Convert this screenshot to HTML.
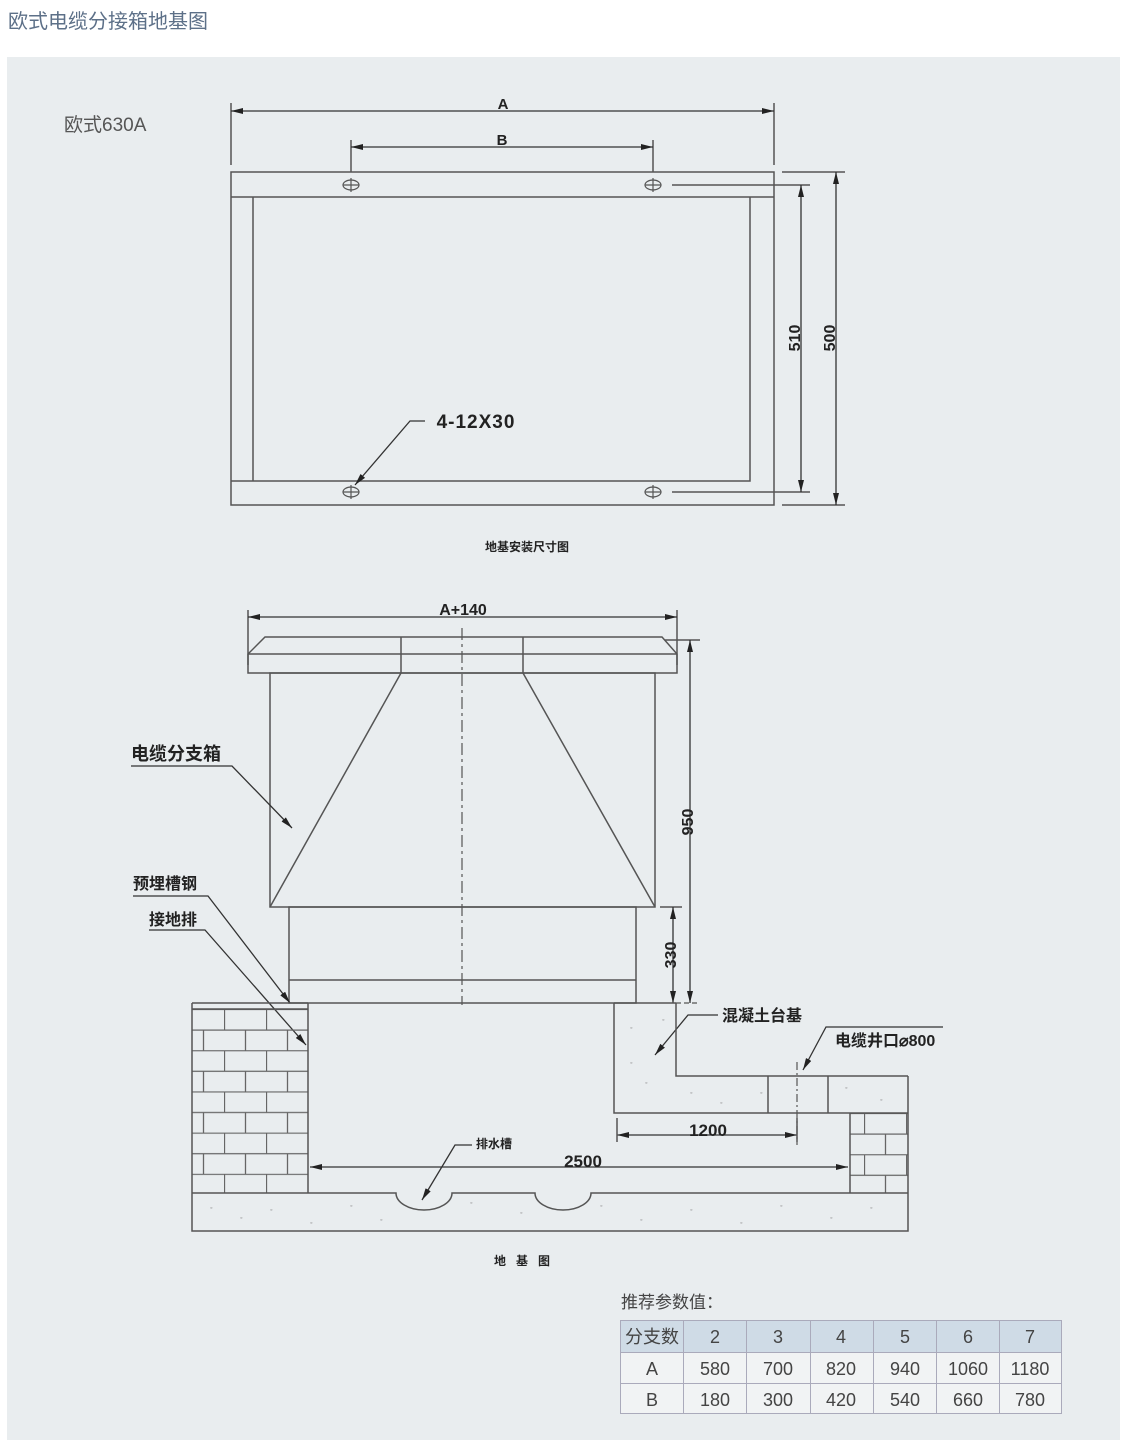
<!DOCTYPE html>
<html><head><meta charset="utf-8"><style>
html,body{margin:0;padding:0;background:#fff;}
body{width:1125px;height:1449px;position:relative;overflow:hidden;font-family:"Liberation Sans","Noto Sans CJK SC",sans-serif;}
</style></head><body>
<svg width="1125" height="1449" viewBox="0 0 1125 1449" xmlns="http://www.w3.org/2000/svg" style="position:absolute;left:0;top:0">
<defs>
<pattern id="brk" patternUnits="userSpaceOnUse" x="182" y="1009" width="42" height="41.2">
<path d="M0 0.5H42M0 21.1H42M0.5 0V20.6M21.5 20.6V41.2" stroke="#666" stroke-width="1.3" fill="none"/>
</pattern>
<pattern id="brk2" patternUnits="userSpaceOnUse" x="822" y="1113" width="42" height="41.2">
<path d="M0 0.5H42M0 21.1H42M0.5 0V20.6M21.5 20.6V41.2" stroke="#666" stroke-width="1.3" fill="none"/>
</pattern>
<marker id="ar" viewBox="0 0 12 6" refX="12" refY="3" markerWidth="12" markerHeight="6" markerUnits="userSpaceOnUse" orient="auto-start-reverse"><path d="M0 0L12 3L0 6z" fill="#222"/></marker>
</defs>
<text x="8" y="28" font-size="20" fill="#5d7088" font-family="Liberation Sans,Noto Sans CJK SC,sans-serif">欧式电缆分接箱地基图</text>
<rect x="7" y="57" width="1113" height="1383" fill="#e9edef"/>
<text x="64" y="131" font-size="19" fill="#555">欧式630A</text>

<g stroke="#555" stroke-width="1.5" fill="none">
<!-- plan -->
<rect x="231" y="172" width="543" height="333"/>
<path d="M231 197H774M253 197V481M231 481H750V197"/>
<path d="M231 103V165M774 103V165M351 140V172M653 140V172"/>
<path d="M672 185H810M672 492H810M782 172H845M782 505H845"/>
</g>
<g stroke="#333" stroke-width="1.3" fill="none">
<path d="M231 111H774" marker-start="url(#ar)" marker-end="url(#ar)"/>
<path d="M351 147H653" marker-start="url(#ar)" marker-end="url(#ar)"/>
<path d="M801 185V492" marker-start="url(#ar)" marker-end="url(#ar)"/>
<path d="M836 172V505" marker-start="url(#ar)" marker-end="url(#ar)"/>
<path d="M425 421H410L355 485" marker-end="url(#ar)"/>
</g>
<g stroke="#555" stroke-width="1.2" fill="none">
<ellipse cx="351" cy="185" rx="8" ry="5"/><path d="M343 185H359M351 178V192"/>
<ellipse cx="653" cy="185" rx="8" ry="5"/><path d="M645 185H661M653 178V192"/>
<ellipse cx="351" cy="492" rx="8" ry="5"/><path d="M343 492H359M351 485V499"/>
<ellipse cx="653" cy="492" rx="8" ry="5"/><path d="M645 492H661M653 485V499"/>
</g>
<g font-size="15" fill="#222" font-weight="bold" text-anchor="middle">
<text x="503" y="109">A</text>
<text x="502" y="145">B</text>
<text x="476" y="428" font-size="19" letter-spacing="1">4-12X30</text>
<text transform="translate(800,338) rotate(-90)" font-size="16">510</text>
<text transform="translate(835,338) rotate(-90)" font-size="16">500</text>
<text x="527" y="551" font-size="12">地基安装尺寸图</text>
</g>

<!-- elevation -->
<g stroke="#555" stroke-width="1.5" fill="none">
<path d="M265 637H662L677 654V673H248V654Z"/>
<path d="M248 654H677M401 637V673M523 637V673"/>
<rect x="270" y="673" width="385" height="234"/>
<path d="M401 673L270 907M523 673L655 907"/>
<rect x="289" y="907" width="347" height="96"/>
<path d="M289 980H636"/>
<path d="M248 610V665M677 610V665M665 640H700M660 907H682"/>
</g>
<path d="M462 628V1005" stroke="#555" stroke-width="1.2" stroke-dasharray="12,4,3,4"/>
<g stroke="#333" stroke-width="1.3" fill="none">
<path d="M248 617H677" marker-start="url(#ar)" marker-end="url(#ar)"/>
<path d="M690 640V1003" marker-start="url(#ar)" marker-end="url(#ar)"/>
<path d="M673 907V1003" marker-start="url(#ar)" marker-end="url(#ar)"/>
<path d="M131 766H232L292 828" marker-end="url(#ar)"/>
<path d="M133 896H208L290 1003" marker-end="url(#ar)"/>
<path d="M149 930H205L306 1045" marker-end="url(#ar)"/>
<path d="M718 1015H688L655 1055" marker-end="url(#ar)"/>
<path d="M943 1027H826L803 1070" marker-end="url(#ar)"/>
<path d="M472 1145H455L422 1200" marker-end="url(#ar)"/>
<path d="M617 1135H797" marker-start="url(#ar)" marker-end="url(#ar)"/>
<path d="M310 1167H848" marker-start="url(#ar)" marker-end="url(#ar)"/>
</g>
<!-- foundation -->
<rect x="192" y="1009" width="116" height="184" fill="url(#brk)"/>
<rect x="850" y="1113" width="58" height="80" fill="url(#brk2)"/>
<g stroke="#555" stroke-width="1.5" fill="none">
<path d="M192 1003H308M192 1003V1231H908V1193M192 1193H396A28 17 0 0 0 452 1193H535A28 17 0 0 0 591 1193H908"/>
<path d="M192 1009H308M308 1003V1193M850 1113V1193M908 1076V1193"/>
<path d="M614 1003H676M614 1003V1113H908M676 1003V1076H908M768 1076V1113M828 1076V1113"/>
<path d="M617 1118V1142M797 1118V1142"/>
</g>
<path d="M797 1062V1145" stroke="#555" stroke-width="1.2" stroke-dasharray="8,3,2,3"/>
<path d="M676 1003H700" stroke="#555" stroke-width="1.2" stroke-dasharray="5,3"/>
<g fill="#777" font-size="7">
<text x="630" y="1030">◦</text><text x="662" y="1022">◦</text><text x="645" y="1085">◦</text><text x="690" y="1095">◦</text><text x="720" y="1105">◦</text><text x="760" y="1095">◦</text><text x="845" y="1090">◦</text><text x="880" y="1102">◦</text><text x="630" y="1065">◦</text>
<text x="210" y="1210">◦</text><text x="240" y="1220">◦</text><text x="270" y="1212">◦</text><text x="310" y="1225">◦</text><text x="350" y="1208">◦</text><text x="380" y="1222">◦</text><text x="470" y="1205">◦</text><text x="520" y="1215">◦</text><text x="600" y="1208">◦</text><text x="640" y="1222">◦</text><text x="690" y="1212">◦</text><text x="740" y="1225">◦</text><text x="780" y="1208">◦</text><text x="830" y="1220">◦</text><text x="870" y="1210">◦</text>
</g>
<g font-size="16" fill="#222" font-weight="bold">
<text x="463" y="615" text-anchor="middle" font-size="16">A+140</text>
<text transform="translate(693,822) rotate(-90)" text-anchor="middle" font-size="16">950</text>
<text transform="translate(676,955) rotate(-90)" text-anchor="middle" font-size="16">330</text>
<text x="131" y="760" font-size="18">电缆分支箱</text>
<text x="133" y="889" font-size="16">预埋槽钢</text>
<text x="149" y="925" font-size="16">接地排</text>
<text x="722" y="1021" font-size="16">混凝土台基</text>
<text x="835" y="1046" font-size="16">电缆井口⌀800</text>
<text x="476" y="1148" font-size="12">排水槽</text>
<text x="708" y="1136" text-anchor="middle" font-size="17">1200</text>
<text x="583" y="1167" text-anchor="middle" font-size="17">2500</text>
<text x="527" y="1265" text-anchor="middle" font-size="12" letter-spacing="10">地基图</text>
</g>

<!-- table -->
<text x="621" y="1308" font-size="17" fill="#444">推荐参数值：</text>
<rect x="620" y="1320" width="442" height="32" fill="#cfdbe6"/>
<rect x="620" y="1352" width="442" height="62" fill="#f1f3f4"/>
<g stroke="#aab" stroke-width="1" fill="none">
<rect x="620.5" y="1320.5" width="441" height="93"/>
<path d="M620 1352.5H1062M620 1383.5H1062M683.5 1320V1414M746.5 1320V1414M810.5 1320V1414M873.5 1320V1414M936.5 1320V1414M999.5 1320V1414"/>
</g>
<g font-size="18" fill="#444" text-anchor="middle">
<text x="652" y="1343">分支数</text><text x="715" y="1343">2</text><text x="778" y="1343">3</text><text x="841" y="1343">4</text><text x="905" y="1343">5</text><text x="968" y="1343">6</text><text x="1030" y="1343">7</text>
<text x="652" y="1375">A</text><text x="715" y="1375">580</text><text x="778" y="1375">700</text><text x="841" y="1375">820</text><text x="905" y="1375">940</text><text x="968" y="1375">1060</text><text x="1030" y="1375">1180</text>
<text x="652" y="1406">B</text><text x="715" y="1406">180</text><text x="778" y="1406">300</text><text x="841" y="1406">420</text><text x="905" y="1406">540</text><text x="968" y="1406">660</text><text x="1030" y="1406">780</text>
</g>
</svg>
</body></html>
